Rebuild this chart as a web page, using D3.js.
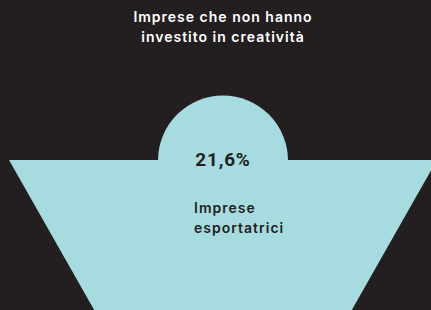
<!DOCTYPE html>
<html lang="it">
<head>
<meta charset="utf-8" />
<title>Imprese esportatrici</title>
<style type="text/css">
    body{ margin:0; background:#231f20; }
    text{ font-family:Inter, "Liberation Sans", Arial, sans-serif; font-weight:600; }
    .val{ font-family:Roboto, "Liberation Sans", Arial, sans-serif; font-weight:700; }
</style>
</head>
<body>
<script src="https://cdn.jsdelivr.net/npm/d3@7/dist/d3.min.js"></script>
<script>
// dati
var titleLines = ["Imprese che non hanno", "investito in creatività"];
var values = [21.6];
var labelLines = ["Imprese", "esportatrici"];

var width = 431, height = 310;
var cx = 223;          // asse centrale della figura
var baseY = 160;       // base del semicerchio / lato alto del trapezio

var svg = d3.select("body").append("svg")
    .attr("width", width)
    .attr("height", height);

svg.append("rect")
    .attr("width", width).attr("height", height)
    .attr("fill", "#231f20");

// scala verticale -> semi-larghezza del trapezio
var halfW = d3.scaleLinear().domain([baseY, height + 20]).range([214, 214 - 0.568 * (height + 20 - baseY)]);

var yTop = baseY, yBot = height + 20;
var trap = [
    [cx - halfW(yTop), yTop],
    [cx + halfW(yTop), yTop],
    [cx + halfW(yBot), yBot],
    [cx - halfW(yBot), yBot]
];

var g = svg.append("g");

g.append("path")
    .attr("d", d3.line()(trap) + "Z")
    .attr("fill", "#a6dbe0");

// semicerchio
var arc = d3.arc()
    .innerRadius(0)
    .outerRadius(65)
    .startAngle(-Math.PI / 2)
    .endAngle(Math.PI / 2);

g.append("path")
    .attr("transform", "translate(" + cx + "," + (baseY + 0.5) + ")")
    .attr("d", arc())
    .attr("fill", "#a6dbe0");

// titolo
svg.append("g")
    .selectAll("text")
    .data(titleLines)
    .enter()
    .append("text")
    .attr("x", cx)
    .attr("y", function(d, i){ return 22 + i * 20; })
    .attr("text-anchor", "middle")
    .attr("fill", "#ffffff")
    .attr("font-size", 14)
    .attr("letter-spacing", 1)
    .text(function(d){ return d; });

// valore
var fmt = function(v){ return d3.format(".1f")(v).replace(".", ",") + "%"; };
svg.selectAll(".val")
    .data(values)
    .enter()
    .append("text")
    .attr("class", "val")
    .attr("x", cx)
    .attr("y", 166)
    .attr("text-anchor", "middle")
    .attr("fill", "#231f20")
    .attr("font-size", 19)
    .attr("letter-spacing", 0.8)
    .text(fmt);

// etichetta
svg.append("g")
    .selectAll("text")
    .data(labelLines)
    .enter()
    .append("text")
    .attr("x", 194)
    .attr("y", function(d, i){ return 213 + i * 20; })
    .attr("fill", "#231f20")
    .attr("font-size", 14)
    .attr("letter-spacing", 1)
    .text(function(d){ return d; });
</script>
</body>
</html>
